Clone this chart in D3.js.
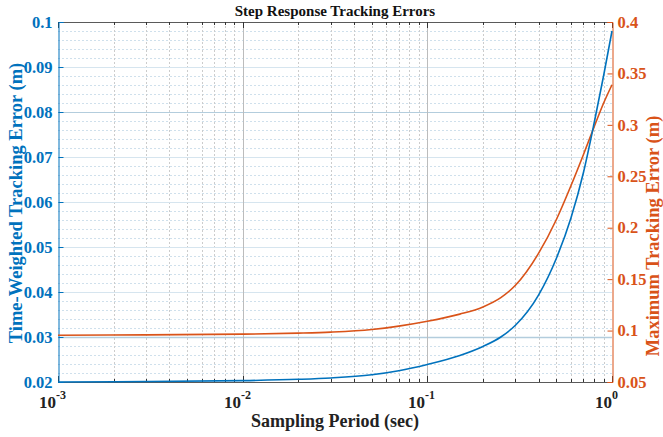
<!DOCTYPE html>
<html>
<head>
<meta charset="utf-8">
<script src="https://cdn.jsdelivr.net/npm/d3@7"></script>
<style>
  body { margin: 0; background: #fff; }
  svg text { font-family: "Liberation Serif", "Times New Roman", serif; font-weight: bold; }
</style>
</head>
<body>
<svg id="chart" width="663" height="437"></svg>
<script>
// sampling periods (sec)
const periods = [0.001, 0.003, 0.01, 0.02, 0.03, 0.05, 0.07, 0.1, 0.15, 0.2, 0.25, 0.3, 0.4, 0.5, 0.6, 0.7, 0.8, 0.9, 1.0];
// time-weighted tracking error (m), left axis
const twError = [0.0200, 0.0201, 0.0203, 0.0206, 0.0209, 0.0216, 0.0225, 0.0239, 0.0259, 0.0279, 0.0300, 0.0326, 0.0393, 0.0475, 0.0565, 0.0665, 0.0775, 0.0880, 0.0980];
// maximum tracking error (m), right axis
const maxError = [0.0955, 0.0958, 0.0965, 0.0975, 0.0985, 0.1010, 0.1043, 0.1090, 0.1160, 0.1230, 0.1320, 0.1440, 0.1750, 0.2080, 0.2410, 0.2710, 0.2980, 0.3210, 0.3390];

const leftTicks = [0.02, 0.03, 0.04, 0.05, 0.06, 0.07, 0.08, 0.09, 0.1];
const rightTicks = [0.05, 0.1, 0.15, 0.2, 0.25, 0.3, 0.35, 0.4];
const xMajor = [-3, -2, -1, 0];

const blue = '#0072BD';
const orange = '#D95319';

const margin = { left: 58, right: 51, top: 22, bottom: 55 };
const width = 663, height = 437;
const svg = d3.select('#chart');

const x = d3.scaleLog().domain([0.001, 1]).range([margin.left, width - margin.right]);
const yL = d3.scaleLinear().domain([0.02, 0.1]).range([height - margin.bottom, margin.top]);
const yR = d3.scaleLinear().domain([0.05, 0.4]).range([height - margin.bottom, margin.top]);

const x0 = margin.left, x1 = width - margin.right;
const y0 = height - margin.bottom, y1 = margin.top;

// minor x ticks 2..9 of each decade
const xMinor = [];
for (let d = -3; d < 0; d++) {
    for (let m = 2; m <= 9; m++) xMinor.push(m * Math.pow(10, d));
}

const grid = svg.append('g');

// horizontal minor grid (left axis)
const yMinor = d3.range(0.02, 0.1001, 0.002).filter(v => Math.abs(v * 100 - Math.round(v * 100)) > 1e-6);
grid.selectAll('.hmin').data(yMinor).enter().append('line')
    .attr('x1', x0).attr('x2', x1)
    .attr('y1', d => Math.round(yL(d)) + 0.5).attr('y2', d => Math.round(yL(d)) + 0.5)
    .attr('stroke', '#cfe0ec').attr('stroke-dasharray', '2,2').attr('stroke-width', 1);

// vertical minor grid
grid.selectAll('.vmin').data(xMinor).enter().append('line')
    .attr('x1', d => Math.round(x(d)) + 0.5).attr('x2', d => Math.round(x(d)) + 0.5)
    .attr('y1', y1).attr('y2', y0)
    .attr('stroke', '#cccccc').attr('stroke-dasharray', '2,2').attr('stroke-width', 1);

// horizontal major grid
grid.selectAll('.hmaj').data(leftTicks).enter().append('line')
    .attr('x1', x0).attr('x2', x1)
    .attr('y1', d => Math.round(yL(d)) + 0.5).attr('y2', d => Math.round(yL(d)) + 0.5)
    .attr('stroke', d => (Math.abs(d - 0.08) < 1e-6 || Math.abs(d - 0.03) < 1e-6) ? '#b3cddd' : '#d6e5ef')
    .attr('stroke-width', d => (Math.abs(d - 0.03) < 1e-6) ? 1.6 : 1);

// vertical major grid
grid.selectAll('.vmaj').data([0.01, 0.1]).enter().append('line')
    .attr('x1', d => Math.round(x(d)) + 0.5).attr('x2', d => Math.round(x(d)) + 0.5)
    .attr('y1', y1).attr('y2', y0)
    .attr('stroke', '#bcbcbc').attr('stroke-width', 1);

// box: top and bottom
svg.append('line').attr('x1', x0).attr('x2', x1).attr('y1', y1 + 0.5).attr('y2', y1 + 0.5)
    .attr('stroke', '#5a5a5a').attr('stroke-width', 1);
svg.append('line').attr('x1', x0).attr('x2', x1).attr('y1', y0 + 0.5).attr('y2', y0 + 0.5)
    .attr('stroke', '#5a5a5a').attr('stroke-width', 1);

// x ticks (inward, top and bottom)
const xt = svg.append('g');
xMajor.forEach(e => {
    const px = Math.round(x(Math.pow(10, e))) + 0.5;
    xt.append('line').attr('x1', px).attr('x2', px).attr('y1', y0).attr('y2', y0 - 6).attr('stroke', '#333');
    xt.append('line').attr('x1', px).attr('x2', px).attr('y1', y1).attr('y2', y1 + 6).attr('stroke', '#333');
    const t = xt.append('text').attr('x', px - 6).attr('y', y0 + 26)
        .attr('text-anchor', 'middle').attr('font-size', 17).attr('fill', '#222');
    t.append('tspan').text('10');
    t.append('tspan').attr('dy', -9).attr('font-size', 12).text(e === 0 ? '0' : '-' + Math.abs(e));
});
xMinor.forEach(v => {
    const px = Math.round(x(v)) + 0.5;
    xt.append('line').attr('x1', px).attr('x2', px).attr('y1', y0).attr('y2', y0 - 3).attr('stroke', '#333');
    xt.append('line').attr('x1', px).attr('x2', px).attr('y1', y1).attr('y2', y1 + 3).attr('stroke', '#333');
});

// left axis
const leftAxis = d3.axisLeft(yL).tickValues(leftTicks).tickSize(-5).tickPadding(6)
    .tickFormat(d => d3.format('~g')(+d.toFixed(3)));
const gl = svg.append('g').attr('transform', `translate(${x0 + 0.5},0)`).call(leftAxis);
gl.select('.domain').attr('stroke', blue);
gl.selectAll('.tick line').attr('stroke', blue);
gl.selectAll('.tick text').attr('fill', blue).attr('font-size', 16.5)
    .style('font-family', '"Liberation Serif", serif').style('font-weight', 'bold');

// right axis
const rightAxis = d3.axisRight(yR).tickValues(rightTicks).tickSize(-5).tickPadding(5)
    .tickFormat(d => d3.format('~g')(+d.toFixed(3)));
const gr = svg.append('g').attr('transform', `translate(${x1 + 0.5},0)`).call(rightAxis);
gr.select('.domain').attr('stroke', orange);
gr.selectAll('.tick line').attr('stroke', orange);
gr.selectAll('.tick text').attr('fill', orange).attr('font-size', 16.5)
    .style('font-family', '"Liberation Serif", serif').style('font-weight', 'bold');

// curves
const lineL = d3.line().x((d, i) => x(periods[i])).y(d => yL(d)).curve(d3.curveMonotoneX);
const lineR = d3.line().x((d, i) => x(periods[i])).y(d => yR(d)).curve(d3.curveMonotoneX);

svg.append('path').datum(maxError).attr('d', lineR)
    .attr('fill', 'none').attr('stroke', orange).attr('stroke-width', 1.6);
svg.append('path').datum(twError).attr('d', lineL)
    .attr('fill', 'none').attr('stroke', blue).attr('stroke-width', 1.6);

// title and labels
svg.append('text').attr('x', (x0 + x1) / 2).attr('y', 16).attr('text-anchor', 'middle')
    .attr('font-size', 15).attr('fill', '#111').text('Step Response Tracking Errors');

svg.append('text').attr('x', (x0 + x1) / 2).attr('y', 427).attr('text-anchor', 'middle')
    .attr('font-size', 18).attr('fill', '#222').text('Sampling Period (sec)');

svg.append('text').attr('transform', `translate(22,203) rotate(-90)`)
    .attr('text-anchor', 'middle').attr('font-size', 18.5).attr('fill', blue)
    .text('Time-Weighted Tracking Error (m)');

svg.append('text').attr('transform', `translate(659,236) rotate(-90)`)
    .attr('text-anchor', 'middle').attr('font-size', 18.5).attr('fill', orange)
    .text('Maximum Tracking Error (m)');
</script>
</body>
</html>
